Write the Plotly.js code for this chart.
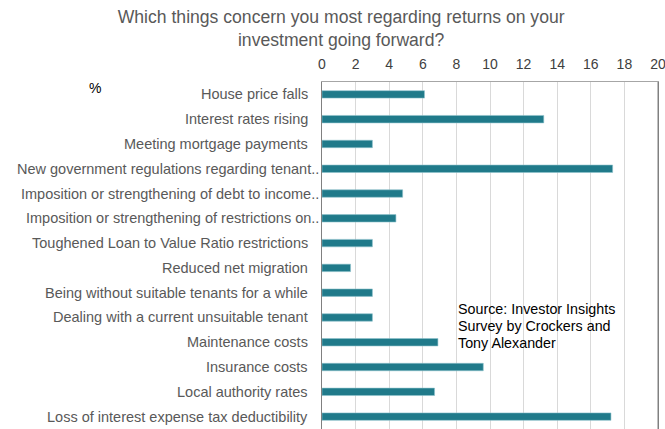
<!DOCTYPE html>
<html>
<head>
<meta charset="utf-8">
<script src="https://cdn.plot.ly/plotly-3.0.1.min.js"></script>
<style>html,body{margin:0;padding:0;background:#fff;overflow:hidden;}#chart{width:665px;height:429px;}</style>
</head>
<body>
<div id="chart"></div>
<script>
const categories = [
  "House price falls",
  "Interest rates rising",
  "Meeting mortgage payments",
  "New government regulations regarding tenant..",
  "Imposition or strengthening of debt to income..",
  "Imposition or strengthening of restrictions on..",
  "Toughened Loan to Value Ratio restrictions",
  "Reduced net migration",
  "Being without suitable tenants for a while",
  "Dealing with a current unsuitable tenant",
  "Maintenance costs",
  "Insurance costs",
  "Local authority rates",
  "Loss of interest expense tax deductibility"
];
const values = [6.1, 13.2, 3.0, 17.3, 4.8, 4.4, 3.0, 1.7, 3.0, 3.0, 6.9, 9.6, 6.7, 17.2];
const xTicks = [0, 2, 4, 6, 8, 10, 12, 14, 16, 18, 20];
const sourceLines = ["Source: Investor Insights", "Survey by Crockers and", "Tony Alexander"];

const trace = {
  type: 'bar',
  orientation: 'h',
  x: values,
  y: categories,
  marker: { color: '#207a8a', line: { color: '#8fc2cc', width: 0.6 } },
  hoverinfo: 'x+y'
};

const sourceAnnotations = sourceLines.map((t, i) => ({
  text: t, xref: 'paper', yref: 'paper',
  x: 0.4, y: 0.345 - i * 0.048, xanchor: 'left', yanchor: 'middle', align: 'left',
  showarrow: false, font: { size: 14.3, color: '#000000' }
}));

// category labels drawn as annotations so truncated ones can overhang like the original
const labelAnnotations = categories.map(c => ({
  text: c, xref: 'paper', yref: 'y',
  x: c.endsWith('..') ? -0.004 : -0.0355, y: c,
  xanchor: 'right', yanchor: 'middle', showarrow: false,
  font: { size: 14.5, color: '#595959' }
}));

const layout = {
  width: 665,
  height: 429,
  margin: { l: 322, r: 7, t: 82, b: 0, pad: 0 },
  paper_bgcolor: '#ffffff',
  plot_bgcolor: '#ffffff',
  showlegend: false,
  bargap: 0.7,
  font: { family: 'Liberation Sans, Arial, sans-serif', size: 14.5, color: '#595959' },
  title: {
    text: 'Which things concern you most regarding returns on your<br>investment going forward?',
    font: { family: 'Liberation Sans, Arial, sans-serif', size: 17.6, color: '#595959' },
    x: 0.513, xanchor: 'center', xref: 'container',
    y: 0.946, yanchor: 'top', yref: 'container'
  },
  xaxis: {
    side: 'top',
    range: [0, 20],
    tickvals: xTicks,
    ticktext: xTicks.map(String),
    showgrid: true,
    gridcolor: '#d9d9d9',
    gridwidth: 1,
    zeroline: false,
    showline: true,
    linecolor: '#a6a6a6',
    linewidth: 1,
    mirror: false,
    ticks: '',
    ticklabelstandoff: 6,
    ticklabeloverflow: 'allow',
    tickfont: { size: 14, color: '#404040' },
    fixedrange: true
  },
  yaxis: {
    type: 'category',
    autorange: 'reversed',
    showgrid: false,
    zeroline: false,
    showline: true,
    linecolor: '#808080',
    linewidth: 1,
    mirror: true,
    ticks: '',
    showticklabels: false,
    fixedrange: true
  },
  shapes: [
    { type: 'line', xref: 'paper', yref: 'paper', x0: 1, x1: 1, y0: 0, y1: 1,
      line: { color: '#808080', width: 1 } }
  ],
  annotations: [
    {
      text: '%', xref: 'paper', yref: 'paper',
      x: -0.676, y: 0.982, xanchor: 'center', yanchor: 'middle',
      showarrow: false, font: { size: 14, color: '#000000' }
    }
  ].concat(labelAnnotations, sourceAnnotations)
};

Plotly.newPlot('chart', [trace], layout, { displayModeBar: false, staticPlot: true });
</script>
</body>
</html>
